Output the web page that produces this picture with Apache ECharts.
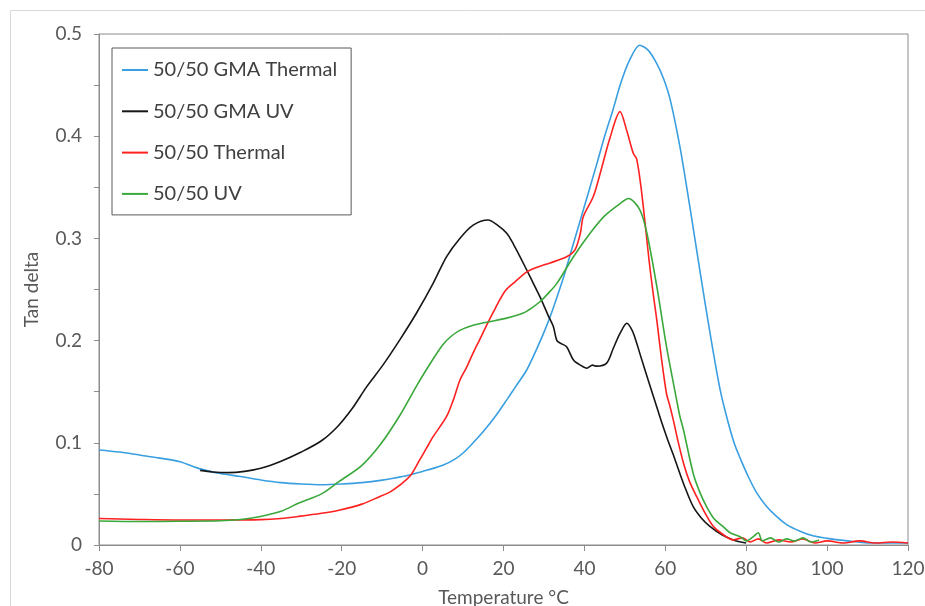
<!DOCTYPE html>
<html>
<head>
<meta charset="utf-8">
<script src="https://cdn.jsdelivr.net/npm/echarts@6/dist/echarts.min.js"></script>
<style>
html,body{margin:0;padding:0;background:#fff;}
#c{width:925px;height:606px;}
</style>
</head>
<body>
<div id="c"></div>
<script>
var seriesNames = ['50/50 GMA Thermal', '50/50 GMA UV', '50/50 Thermal', '50/50 UV'];
var xTicks = [-80, -60, -40, -20, 0, 20, 40, 60, 80, 100, 120];
var yTicks = [0, 0.1, 0.2, 0.3, 0.4, 0.5];

var gmaThermal = [[-80,0.093],[-75,0.091],[-70,0.088],[-65,0.085],[-60,0.0815],[-55,0.0745],[-50,0.070],[-45,0.067],[-40,0.0636],[-35,0.061],[-30,0.0597],[-25,0.059],[-20,0.0597],[-15,0.061],[-10,0.0635],[-5,0.067],[0,0.072],[5,0.078],[8,0.084],[10,0.090],[12.5,0.100],[15,0.111],[18,0.126],[20.8,0.142],[23,0.155],[25.7,0.171],[28,0.190],[30,0.208],[31.5,0.223],[33,0.240],[35,0.264],[37,0.291],[39,0.318],[41,0.345],[43,0.372],[45,0.40],[47,0.425],[49,0.452],[51,0.473],[53.7,0.489],[55.8,0.484],[57.9,0.471],[59.6,0.456],[61.2,0.436],[63.6,0.39],[65.5,0.345],[67.5,0.295],[69.5,0.245],[71.5,0.197],[73.5,0.153],[75.2,0.125],[77,0.10],[78.5,0.085],[80.5,0.067],[82.6,0.051],[85,0.038],[87.5,0.028],[90,0.020],[93.3,0.0135],[96.5,0.009],[100,0.0065],[105,0.004],[110,0.002],[115,0.002],[120,0.002]];

var gmaUV = [[-55,0.073],[-52,0.0715],[-48,0.0708],[-44,0.072],[-40,0.075],[-35,0.082],[-30,0.091],[-25,0.102],[-21,0.116],[-17.5,0.133],[-13.8,0.155],[-10,0.175],[-5.6,0.201],[-1.5,0.227],[2.6,0.256],[5.9,0.282],[9.2,0.300],[12.5,0.313],[16.2,0.318],[18.5,0.313],[20.8,0.305],[22.5,0.294],[24.1,0.282],[26.5,0.263],[29,0.243],[31,0.225],[32.3,0.214],[33.2,0.200],[34.3,0.197],[35.6,0.194],[37.3,0.181],[39,0.176],[40.6,0.173],[42,0.176],[43,0.175],[45.5,0.178],[47.1,0.192],[48.8,0.207],[50.5,0.217],[51.8,0.21],[52.9,0.198],[53.7,0.1875],[55.8,0.161],[57.5,0.140],[59.1,0.120],[60.5,0.104],[62,0.088],[63.6,0.070],[65,0.055],[66.9,0.0375],[69,0.026],[71.1,0.018],[74,0.01],[76.8,0.005],[80,0.002]];

var thermal = [[-80,0.026],[-75,0.0255],[-70,0.025],[-60,0.0245],[-50,0.0245],[-40,0.0248],[-35,0.026],[-30.6,0.028],[-25,0.031],[-20.7,0.034],[-15,0.04],[-10.8,0.047],[-8,0.052],[-5.8,0.058],[-3,0.068],[-0.9,0.082],[1,0.095],[2.6,0.106],[5.9,0.1255],[7.6,0.142],[9.2,0.161],[10.9,0.174],[12.5,0.188],[14,0.200],[16.2,0.218],[17.5,0.228],[19.1,0.240],[20.5,0.249],[22.4,0.256],[25.7,0.267],[28.5,0.272],[31.5,0.276],[35.6,0.282],[37.7,0.289],[39,0.305],[39.7,0.321],[42.2,0.341],[44,0.365],[46.3,0.398],[48.8,0.424],[50.5,0.405],[52.1,0.383],[52.9,0.378],[54,0.35],[55,0.315],[56,0.278],[57,0.246],[57.9,0.220],[59.1,0.181],[60.3,0.148],[61,0.138],[62,0.122],[63,0.104],[64.5,0.080],[66,0.062],[67.8,0.047],[70,0.03],[71.9,0.018],[74,0.011],[76.8,0.005],[79,0.007],[81,0.003],[83,0.006],[85,0.002],[88,0.005],[91,0.003],[94,0.006],[97,0.002],[100,0.004],[104,0.002],[108,0.004],[112,0.002],[116,0.003],[120,0.002]];

var uv = [[-80,0.0235],[-70,0.023],[-60,0.0232],[-50,0.0237],[-45,0.025],[-40.4,0.0277],[-35,0.033],[-30.6,0.041],[-25,0.05],[-20.7,0.062],[-15,0.078],[-10.5,0.098],[-5.6,0.127],[-1.3,0.157],[2.6,0.182],[5,0.196],[7,0.204],[9.2,0.210],[12.5,0.215],[15.8,0.218],[20.8,0.222],[24.9,0.227],[27,0.232],[29,0.238],[31,0.246],[33.2,0.256],[37.3,0.282],[41.4,0.305],[45,0.322],[48.8,0.334],[50.9,0.339],[53.7,0.328],[55.4,0.306],[57.9,0.253],[60.3,0.194],[62.8,0.142],[63.6,0.126],[64.5,0.1125],[66.9,0.07],[68.5,0.052],[70.2,0.0375],[72,0.026],[74.3,0.018],[76,0.012],[78.5,0.008],[80,0.004],[82,0.009],[83,0.012],[84,0.004],[86,0.007],[88,0.003],[90,0.006],[92,0.004],[94,0.007],[96,0.003],[98,0.005]];

var colors = ['#3a9fe0', '#161616', '#ff2020', '#3aa83a'];
var dataSets = [gmaThermal, gmaUV, thermal, uv];

var chart = echarts.init(document.getElementById('c'), null, {renderer: 'canvas'});
var font = 'Lato, "Open Sans", sans-serif';
var option = {
  animation: false,
  backgroundColor: '#fff',
  color: colors,
  graphic: [{
    type: 'rect', shape: {x: 10.5, y: 10.5, width: 930, height: 620},
    style: {fill: 'none', stroke: '#d9d9d9', lineWidth: 1}, silent: true, z: -1
  }],
  grid: {left: 99, top: 34, right: 17, bottom: 61, show: true, borderColor: '#8c8c8c', borderWidth: 1,
    backgroundColor: 'transparent', containLabel: false, outerBoundsMode: 'none'},
  legend: {
    orient: 'vertical', left: 112, top: 48,
    icon: 'rect', itemWidth: 26, itemHeight: 2, itemGap: 21.3,
    padding: [12, 14, 11, 10],
    borderColor: '#595959', borderWidth: 1, backgroundColor: '#fff',
    textStyle: {fontFamily: font, fontSize: 20, color: '#404040', lineHeight: 20},
    data: seriesNames
  },
  xAxis: {
    type: 'value', min: xTicks[0], max: xTicks[xTicks.length - 1], interval: 20,
    name: 'Temperature °C', nameLocation: 'middle', nameGap: 43,
    nameTextStyle: {fontFamily: font, fontSize: 19, color: '#595959'},
    axisLine: {show: true, onZero: false, lineStyle: {color: '#8c8c8c', width: 1}},
    axisTick: {show: true, inside: false, length: 6, lineStyle: {color: '#8c8c8c'}},
    axisLabel: {fontFamily: font, fontSize: 19, color: '#595959', margin: 14},
    splitLine: {show: false}
  },
  yAxis: {
    type: 'value', min: yTicks[0], max: yTicks[yTicks.length - 1], interval: 0.1,
    name: 'Tan delta', nameLocation: 'middle', nameGap: 58,
    nameTextStyle: {fontFamily: font, fontSize: 19, color: '#595959'},
    axisLine: {show: true, onZero: false, lineStyle: {color: '#8c8c8c', width: 1}},
    axisTick: {show: true, inside: false, length: 5, lineStyle: {color: '#8c8c8c'}},
    minorTick: {show: true, splitNumber: 2, length: 5, lineStyle: {color: '#8c8c8c'}},
    axisLabel: {fontFamily: font, fontSize: 19, color: '#595959', margin: 17,
      formatter: function (v) { return String(Math.round(v * 10) / 10); }},
    splitLine: {show: false}
  },
  series: dataSets.map(function (d, i) {
    return {
      name: seriesNames[i], type: 'line', data: d, showSymbol: false, smooth: 0.3,
      lineStyle: {width: 1.6, color: colors[i]}, itemStyle: {color: colors[i]}
    };
  })
};
chart.setOption(option);
</script>
</body>
</html>
